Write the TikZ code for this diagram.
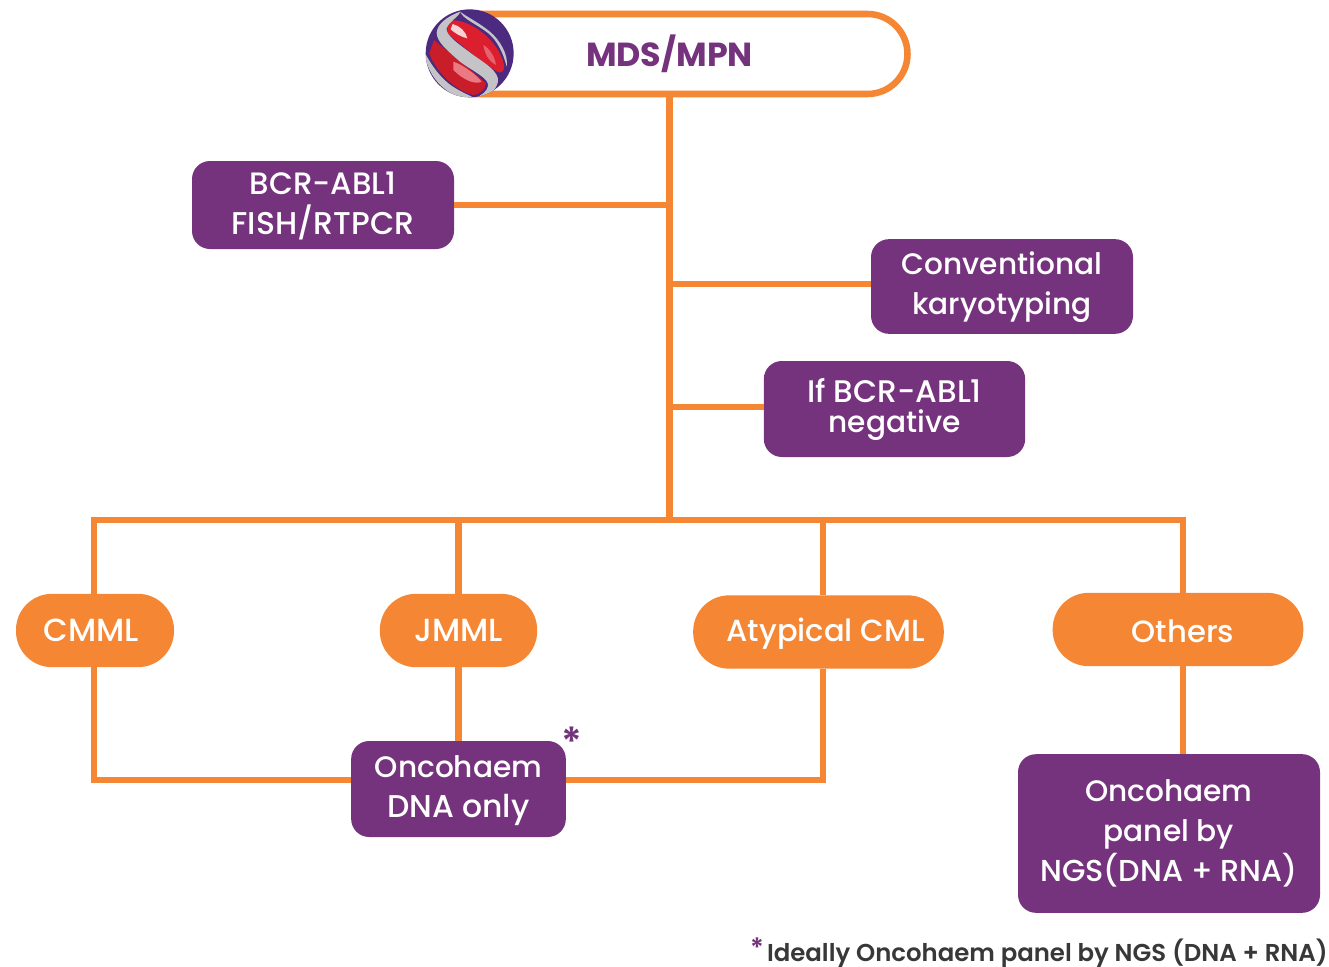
\documentclass[tikz,border=0pt]{standalone}
\usepackage{fontspec}
\setmainfont{Poppins}[UprightFont=* Medium,BoldFont=* SemiBold]
\newfontfamily\titlefont{Poppins}[UprightFont=* Bold]
\definecolor{org}{HTML}{F58634}
\definecolor{pur}{HTML}{76337D}
\definecolor{dpur}{HTML}{4B2A80}
\definecolor{silv}{HTML}{C4C4C8}
\definecolor{rd}{HTML}{DC1F2E}
\newcommand{\fs}[1]{\fontsize{#1}{30}\selectfont}
\newcommand{\lift}[1]{\rule{0pt}{#1pt}}
\tikzset{
 box/.style={fill=pur,text=white,rounded corners=13.5pt,inner sep=0pt,align=center,font=\fontsize{22}{30}\selectfont},
 pill/.style={fill=org,text=white,rounded corners=27pt,inner sep=0pt,align=center,font=\fontsize{23}{30}\selectfont},
 conn/.style={draw=org,line width=4.9pt},
 star/.style={text=pur,font=\bfseries\fontsize{20}{20}\selectfont,inner sep=0pt},
}
\begin{document}
\begin{tikzpicture}[x=0.75pt,y=-0.75pt]
\useasboundingbox (0,0) rectangle (1329,967);
% nodes
\node[draw=org,line width=4.9pt,fill=white,rounded corners=30pt,minimum width=357pt,minimum height=60pt,inner sep=0pt,text=pur,font=\titlefont\fontsize{25}{28}\selectfont] (top) at (669.5,54) {MDS/MPN};
\node[box,minimum width=196.5pt,minimum height=66pt] (bcr) at (323,205) {\fs{23.2}\lift{19}BCR-ABL1\\\fs{23.6}FISH/RTPCR};
\node[box,minimum width=196.5pt,minimum height=71pt] (conv) at (1002,286.5) {\fs{22.2}\lift{18.5}Conventional\\\fs{22.2}karyotyping};
\node[box,minimum width=196pt,minimum height=72pt,font=\fontsize{22}{22.5}\selectfont] (neg) at (894.5,409) {\fontsize{23.4}{22.5}\selectfont If BCR-ABL1\\\fontsize{22.2}{22.5}\selectfont negative};
\node[pill,minimum width=118.5pt,minimum height=55pt] (cmml) at (95,630.5) {\hspace*{-6pt}\fs{24}CMML};
\node[pill,minimum width=118pt,minimum height=55pt] (jmml) at (458.5,630.5) {\fs{24}JMML};
\node[pill,minimum width=188pt,minimum height=55pt] (acml) at (818.5,632) {\hspace*{11pt}\fs{22.9}\lift{20}Atypical CML};
\node[pill,minimum width=188pt,minimum height=55pt] (oth) at (1178,629.5) {\hspace*{7.5pt}\fs{23}\lift{19}Others};
\node[box,minimum width=161pt,minimum height=72pt] (dna) at (458.5,789) {\fs{22.2}\lift{19}Oncohaem\\\fs{23.6}DNA only};
\node[box,minimum width=226.5pt,minimum height=119pt] (panel) at (1169,833.5) {\fs{22.2}Oncohaem\\\fs{22.2}panel by\\\fs{22.7}NGS(DNA + RNA)};
\node[text=pur,font=\bfseries\fontsize{30}{30}\selectfont,inner sep=0pt,anchor=base] (s1) at (572,756) {*};
\node[star,anchor=base] (s2) at (757,957) {*};
\node[anchor=base east,inner sep=0pt,text=black!78,font=\bfseries\fontsize{18.3}{20}\selectfont] (foot) at (1328,961) {Ideally Oncohaem panel by NGS (DNA + RNA)};
% junctions
\coordinate (hub) at (top.south |- 0,520);
\coordinate (busL) at (94,520);
\coordinate (busJ) at (jmml.north |- hub);
\coordinate (busA) at (823,520);
\coordinate (busR) at (1183,520);
\coordinate (cL) at (94,780);
\coordinate (cR) at (823,780);
% connectors
\draw[conn] (top.south) -- (hub);
\draw[conn] (bcr.east) -- (bcr.east -| top.south);
\draw[conn] (conv.west |- 0,284) -- (top.south |- 0,284);
\draw[conn] (neg.west |- 0,407) -- (top.south |- 0,407);
\draw[conn,line join=miter] (cmml.north -| busL) -- (busL) -- (busR) -- (busR |- oth.north);
\draw[conn] (busJ) -- (jmml.north);
\draw[conn] (busA) -- (busA |- acml.north);
\draw[conn,line join=miter] (cmml.south -| cL) -- (cL) -- (dna.west |- cL);
\draw[conn] (jmml.south) -- (dna.north);
\draw[conn,line join=miter] (acml.south -| cR) -- (cR) -- (dna.east |- cR);
\draw[conn] (oth.south -| busR) -- (panel.north -| busR);
% sphere
\begin{scope}[shift={(410,0)},x=0.25pt,y=-0.25pt]
\begin{scope}
\clip (179,160) circle (132);
\fill[dpur] (40,20) rectangle (320,300);
% lower dark red rim
\fill[rd!70!black] (48,190) .. controls (70,260) and (120,290) .. (190,296) -- (40,300) -- cycle;
% upper red
\fill[rd] (112,62) .. controls (170,50) and (265,115) .. (282,195) .. controls (285,215) and (272,222) .. (262,215) .. controls (220,190) and (160,140) .. (112,100) -- cycle;
% lower red
\fill[rd!92!black] (72,120) .. controls (120,160) and (190,215) .. (228,250) .. controls (228,270) and (205,285) .. (190,285) .. controls (130,270) and (75,210) .. (58,160) -- cycle;
\fill[white!40!rd] (130,185) .. controls (160,195) and (200,225) .. (215,245) .. controls (195,255) and (160,240) .. (130,210) -- cycle;
\fill[white!80!rd] (128,72) .. controls (150,78) and (168,95) .. (172,115) .. controls (155,112) and (132,98) .. (122,88) -- cycle;
\fill[white!30!rd] (220,135) .. controls (238,145) and (255,170) .. (258,195) .. controls (238,185) and (225,165) .. (220,135) -- cycle;
% silver S ribbon
\fill[silv] (150,35) .. controls (115,48) and (82,70) .. (80,98) .. controls (80,125) and (110,150) .. (150,185) .. controls (190,215) and (238,235) .. (234,258) .. controls (231,275) and (215,285) .. (195,295) .. controls (230,290) and (258,275) .. (264,245) .. controls (268,215) and (225,190) .. (190,165) .. controls (150,135) and (105,105) .. (110,85) .. controls (116,65) and (150,48) .. (150,35) -- cycle;
% upper right ribbon
\fill[silv] (150,35) .. controls (160,58) and (200,72) .. (235,100) .. controls (262,122) and (280,160) .. (290,200) .. controls (296,165) and (270,120) .. (240,95) .. controls (210,70) and (170,50) .. (150,35) -- cycle;
% lower left ribbon
\fill[silv] (48,165) .. controls (65,195) and (85,225) .. (115,250) .. controls (140,270) and (170,282) .. (195,295) -- (150,292) .. controls (100,275) and (60,230) .. (48,180) -- cycle;
\end{scope}
\end{scope}
\end{tikzpicture}
\end{document}
